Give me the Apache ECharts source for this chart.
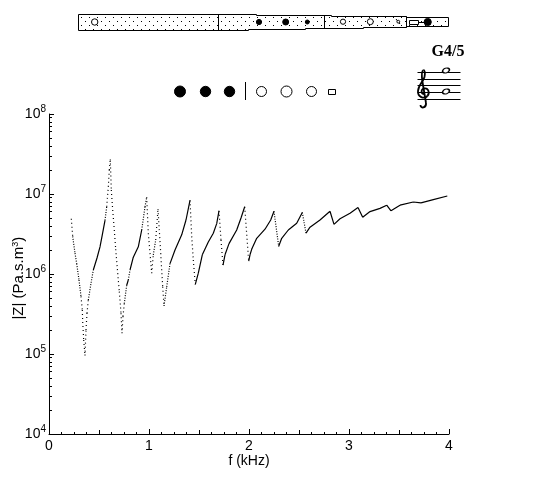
<!DOCTYPE html>
<html>
<head>
<meta charset="utf-8">
<style>html,body{margin:0;padding:0;background:#fff}#c{width:560px;height:480px}</style>
<script src="https://cdn.jsdelivr.net/npm/echarts@6/dist/echarts.min.js"></script>
</head>
<body>
<div id="c"></div>
<script>
// Frequency in kHz and log10 of |Z|
const freqKHz = [.223,.237,.26,.277,.30,.32,.333,.337,.347,.36,.37,.38,.393,.417,.443,.48,.51,.533,.56,.577,.593,.603,.613,
 .623,.637,.653,.667,.687,.703,.72,.73,.74,.753,.777,.793,.81,.843,.893,.927,.96,.977,
 .993,1.027,1.043,1.067,1.09,1.117,1.137,1.15,1.177,1.21,1.26,1.327,1.37,1.41,
 1.427,1.443,1.463,1.493,1.533,1.593,1.643,1.677,1.70,1.72,1.74,1.76,1.80,1.877,1.92,1.957,
 1.997,2.01,2.03,2.077,2.16,2.217,2.25,2.297,2.327,2.393,2.477,2.533,2.57,2.61,2.71,2.81,2.85,2.91,3.01,3.09,3.137,3.21,3.31,3.377,3.42,3.51,3.643,3.72,3.843,3.983];
const logImpedance = [6.69,6.47,6.26,6.13,5.925,5.72,5.55,5.40,5.175,4.98,5.30,5.51,5.675,5.86,6.05,6.20,6.34,6.49,6.67,6.84,7.09,7.30,7.43,
 7.05,6.80,6.55,6.31,6.01,5.78,5.51,5.26,5.47,5.63,5.86,5.925,6.05,6.21,6.34,6.55,6.84,6.96,
 6.51,6.01,6.24,6.425,6.81,6.26,5.84,5.60,5.84,6.13,6.30,6.49,6.675,6.92,
 6.47,6.175,5.87,6.01,6.24,6.40,6.51,6.63,6.79,6.425,6.11,6.24,6.38,6.55,6.70,6.84,
 6.16,6.24,6.32,6.446,6.56,6.675,6.784,6.346,6.446,6.55,6.634,6.77,6.51,6.585,6.675,6.784,6.62,6.69,6.76,6.83,6.71,6.78,6.82,6.86,6.79,6.86,6.90,6.89,6.93,6.975];
const yExponents = [4,5,6,7,8];
const noteTitle = 'G4/5';

const solid = [], dense = [], sparse = [];
for (let i = 1; i < freqKHz.length; i++) {
  const slope = Math.abs(logImpedance[i]-logImpedance[i-1])/(freqKHz[i]-freqKHz[i-1]);
  const target = slope > 11 ? sparse : slope > 7 ? dense : solid;
  target.push([freqKHz[i-1],Math.pow(10,logImpedance[i-1])],[freqKHz[i],Math.pow(10,logImpedance[i])],'-');
}
const range = (a,b,s)=>{const r=[];for(let v=a;v<=b+1e-9;v+=s)r.push(+v.toFixed(3));return r;};
const logMinor = [];
yExponents.slice(0,-1).forEach(e=>{for(let m=1;m<=9;m++)logMinor.push(m*Math.pow(10,e));});

const font = 'Liberation Sans, Arial, sans-serif';
const hiddenAxis = {axisLine:{show:false},axisLabel:{show:false},splitLine:{show:false}};
const grid = {left:49,right:111,top:114,bottom:46,outerBoundsMode:'none'};

// decoration: flute diagram, fingering and staff
const tile = document.createElement('canvas');
tile.width=8;tile.height=8;
const tc = tile.getContext('2d');
tc.fillStyle='#fff';tc.fillRect(0,0,8,8);
tc.fillStyle='#000';tc.fillRect(1,1,1,1);tc.fillRect(5,5,1,1);

const g = [];
const line=(x1,y1,x2,y2,w)=>g.push({type:'line',silent:true,shape:{x1,y1,x2,y2},style:{stroke:'#000',lineWidth:w||1}});
const circ=(cx,cy,r,filled)=>g.push({type:'circle',silent:true,z:5,shape:{cx,cy,r},style:{fill:filled?'#000':'#fff',stroke:'#000',lineWidth:1}});
const rect=(x,y,width,height)=>g.push({type:'rect',silent:true,z:5,shape:{x,y,width,height},style:{fill:'#fff',stroke:'#000',lineWidth:1}});
g.push({type:'polygon',silent:true,shape:{points:[[78.5,14.5],[256.5,14.5],[256.5,15.5],[331.5,15.5],[331.5,16.5],[406.5,16.5],[406.5,17.5],[448.5,17.5],[448.5,26.5],[406.5,26.5],[406.5,27.5],[363.5,27.5],[363.5,28.5],[305.5,28.5],[305.5,29.5],[248.5,29.5],[248.5,30.5],[78.5,30.5]]},
  style:{fill:{image:tile,repeat:'repeat'},stroke:'#000',lineWidth:1}});
line(218.5,14.5,218.5,30.5);line(324.5,15.5,324.5,29);line(406.5,16.5,406.5,27.5);
circ(94.7,22,3.2,false);
circ(259,22,2.6,true);circ(285.7,22,3,true);circ(307.3,22,2,true);
circ(343,21.7,2.6,false);circ(370.3,21.7,3,false);circ(398.3,21.7,1.4,false);
line(396,19,400,24);
line(418,22.5,425,22.5);
rect(409.5,20.5,9,4);circ(427.7,22,3.6,true);

circ(180,91.5,5.5,true);circ(205.5,91.5,5.2,true);circ(229.5,91.5,5.2,true);
line(245.5,82,245.5,100);
circ(261.5,91.5,5,false);circ(286.5,91.5,5.5,false);circ(311.5,91.5,5,false);
rect(328.5,89.5,7,5);

g.push({type:'text',silent:true,style:{text:noteTitle,x:431.5,y:52,font:'bold 16px "Liberation Serif", serif',fill:'#000',verticalAlign:'middle'}});
[72.5,79.5,85.5,92.5,99.5].forEach(y=>line(417.5,y,460.5,y));
// treble clef as connected bezier strokes: [x1,y1,cx1,cy1,cx2,cy2,x2,y2]
[[424.5,94,421,94,420.5,89.5,424,88.5],
 [424,88.5,428.5,87.5,430,93,427.5,96],
 [427.5,96,424,99.5,417.5,97,418,91],
 [418,91,418.5,85,423,82,424.5,77],
 [424.5,77,425.5,73,424.5,70,423.5,70],
 [423.5,70,421.5,71,421.5,76,422.5,82],
 [422.5,82,424,91,425,97,426,103],
 [426,103,426.5,108,420.5,109,420.5,105]
].forEach(([x1,y1,cpx1,cpy1,cpx2,cpy2,x2,y2])=>g.push({type:'bezierCurve',silent:true,z:6,shape:{x1,y1,cpx1,cpy1,cpx2,cpy2,x2,y2},style:{fill:'none',stroke:'#000',lineWidth:1.8}}));
[[446,70.5],[446,91.5]].forEach(([x,y])=>g.push({type:'circle',silent:true,z:6,x,y,rotation:0.35,scaleX:1.55,shape:{cx:0,cy:0,r:2.3},style:{fill:'#fff',stroke:'#000',lineWidth:1.1}}));

const option = {
  animation:false,
  backgroundColor:'#fff',
  textStyle:{fontFamily:font,color:'#000'},
  grid,
  xAxis:[
    {type:'value',position:'bottom',min:0,max:4,interval:1,
     name:'f (kHz)',nameLocation:'middle',nameGap:20,nameMoveOverlap:false,nameTextStyle:{fontSize:14,color:'#000',fontFamily:font},
     axisLine:{show:true,onZero:false,lineStyle:{color:'#000',width:1}},
     axisTick:{show:true,inside:true,length:5,lineStyle:{color:'#000'}},
     axisLabel:{fontSize:14,color:'#000',margin:5,fontFamily:font,formatter:v=>String(v)},
     splitLine:{show:false}},
    {type:'value',position:'bottom',min:0,max:4,interval:1,...hiddenAxis,axisTick:{show:true,inside:true,length:4,lineStyle:{color:'#000'},customValues:range(0,4,.5)}},
    {type:'value',position:'bottom',min:0,max:4,interval:1,...hiddenAxis,axisTick:{show:true,inside:true,length:2,lineStyle:{color:'#000'},customValues:range(0,4,.125)}}
  ],
  yAxis:[
    {type:'log',logBase:10,position:'left',min:1e4,max:1e8,
     name:'{t||Z| (Pa.s.m}{s|3}{t|)  }',nameLocation:'middle',nameGap:22,nameMoveOverlap:false,nameRotate:90,
     nameTextStyle:{fontFamily:font,color:'#000',rich:{t:{fontSize:15,fontFamily:font,color:'#000'},s:{fontSize:9,fontFamily:font,color:'#000',verticalAlign:'top',lineHeight:16}}},
     axisLine:{show:true,onZero:false,lineStyle:{color:'#000',width:1}},
     axisTick:{show:true,inside:true,length:5,lineStyle:{color:'#000'}},
     axisLabel:{margin:3,formatter:v=>'{b|10}{e|'+Math.round(Math.log10(v))+'}',
       rich:{b:{fontSize:14,fontFamily:font,color:'#000',lineHeight:16},e:{fontSize:10,fontFamily:font,color:'#000',verticalAlign:'top',lineHeight:20}}},
     splitLine:{show:false}},
    {type:'log',logBase:10,position:'left',min:1e4,max:1e8,...hiddenAxis,
     axisTick:{show:true,inside:true,length:3,lineStyle:{color:'#000'},customValues:logMinor}}
  ],
  series:[
    {name:'solid',type:'line',data:solid,symbol:'none',connectNulls:false,lineStyle:{color:'#000',width:1.2}},
    {name:'dense',type:'line',data:dense,symbol:'none',connectNulls:false,lineStyle:{color:'#000',width:1.2,type:[1,1.5]}},
    {name:'sparse',type:'line',data:sparse,symbol:'none',connectNulls:false,lineStyle:{color:'#000',width:1.2,type:[1,3]}}
  ],
  graphic:{elements:g}
};
echarts.init(document.getElementById('c'),null,{renderer:'canvas'}).setOption(option);
</script>
</body>
</html>
